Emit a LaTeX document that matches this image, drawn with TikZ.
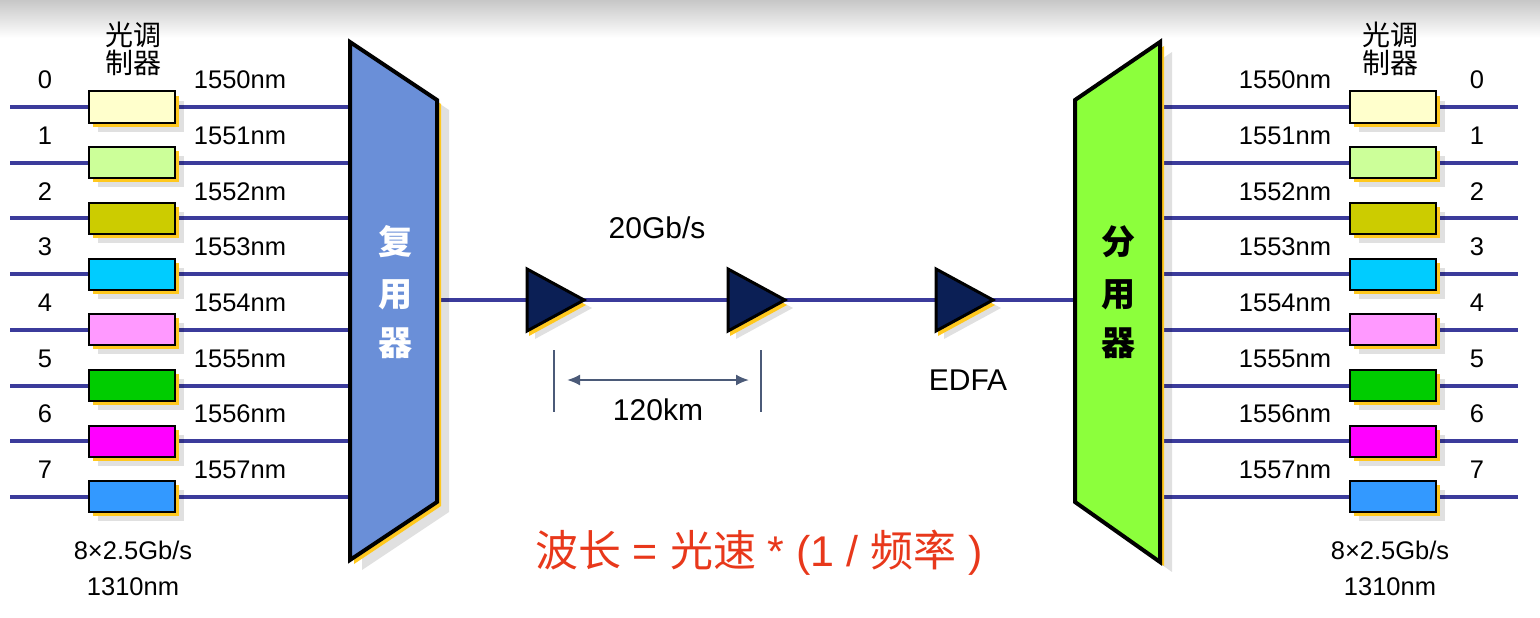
\documentclass[tikz,border=0pt]{standalone}
\usepackage{fontspec}
\setmainfont{Liberation Sans}
\newfontfamily\cjk{Noto Sans CJK SC}
\usetikzlibrary{shadows,calc,arrows.meta}
\pgfdeclarelayer{background}
\pgfsetlayers{background,main}
\definecolor{fibreblue}{HTML}{3B3B9B}
\definecolor{gold}{HTML}{FFC81E}
\definecolor{muxblue}{HTML}{6A8FD8}
\definecolor{demuxgreen}{HTML}{8CFF3C}
\definecolor{ampnavy}{HTML}{0B1F55}
\definecolor{dimgray}{HTML}{4B5A78}
\definecolor{lawred}{HTML}{E8381B}
\definecolor{mod0}{HTML}{FFFFCC}
\definecolor{mod1}{HTML}{CCFF99}
\definecolor{mod2}{HTML}{CCCC00}
\definecolor{mod3}{HTML}{00CCFF}
\definecolor{mod4}{HTML}{FF99FF}
\definecolor{mod5}{HTML}{00CC00}
\definecolor{mod6}{HTML}{FF00FF}
\definecolor{mod7}{HTML}{3399FF}
\tikzset{
  fibre/.style={
    draw=fibreblue,
    line width=4pt
  },
  modulator/.style={
    draw,
    line width=2pt,
    minimum width=86pt,
    minimum height=31pt,
    inner sep=0pt,
    drop shadow={shadow xshift=9pt,shadow yshift=-9pt,fill=black,opacity=0.12},
    drop shadow={shadow xshift=4pt,shadow yshift=-4pt,fill=gold,opacity=1}
  },
  mux/.style={
    draw,
    line width=4pt,
    line join=miter,
    drop shadow={shadow xshift=12pt,shadow yshift=-10pt,fill=black,opacity=0.12},
    drop shadow={shadow xshift=4pt,shadow yshift=-4pt,fill=gold,opacity=1}
  },
  amp/.style={
    draw,
    fill=ampnavy,
    line width=3pt,
    line join=miter,
    drop shadow={shadow xshift=8pt,shadow yshift=-8pt,fill=black,opacity=0.12},
    drop shadow={shadow xshift=2pt,shadow yshift=-5pt,fill=gold,opacity=1}
  },
  dim/.style={
    draw=dimgray,
    line width=2pt,
    >={Latex[length=13pt,width=11pt]}
  },
  lbl/.style={
    inner sep=0pt,
    font=\fontsize{25.5}{25.5}\selectfont
  },
  biglbl/.style={
    inner sep=0pt,
    font=\fontsize{30}{30}\selectfont
  },
  cnlbl/.style={
    inner sep=0pt,
    align=center,
    font=\fontsize{28}{28}\selectfont\cjk
  },
  bigchar/.style={
    inner sep=0pt,
    font=\fontsize{34}{34}\selectfont\cjk\bfseries
  },
  formula/.style={
    inner sep=0pt,
    text=lawred,
    font=\fontsize{43}{43}\selectfont
  }
}

\begin{document}
\begin{tikzpicture}[x=1pt,y=-1pt]
  \useasboundingbox (0,0) rectangle (1540,618);
  \begin{pgfonlayer}{background}
    \shade[top color=black!22,bottom color=white] (0,0) rectangle (1540,38);
  \end{pgfonlayer}

  % multiplexer and demultiplexer
  \filldraw[mux,fill=muxblue] (350,42) -- (437,100) -- (437,502) -- (350,560) -- cycle;
  \filldraw[mux,fill=demuxgreen] (1075,100) -- (1160,42) -- (1160,562) -- (1075,502) -- cycle;
  \foreach \c/\y in {复/242,用/295,器/343}{
      \node[bigchar,text=white] (mx\y) at (395,\y) {\c};
    }
  \foreach \c/\y in {分/242,用/295,器/343}{
      \node[bigchar] (dx\y) at (1118,\y) {\c};
    }
  \coordinate (mo) at (437,300);
  \coordinate (di) at (1075,300);

  % channels
  \foreach \i in {0,...,7}{
      \pgfmathsetmacro{\y}{107+55.7*\i}
      \coordinate (ls\i) at (10,\y);
      \coordinate (lm\i) at (350,\y);
      \coordinate (rd\i) at (1160,\y);
      \coordinate (re\i) at (1518,\y);
      \node[modulator,fill=mod\i] (lmod\i) at (132,\y) {};
      \node[modulator,fill=mod\i] (rmod\i) at (1393,\y) {};
      \node[lbl] (lnum\i) at (45,\y-27) {\i};
      \node[lbl] (lwl\i) at (240,\y-27) {155\i nm};
      \node[lbl] (rnum\i) at (1477,\y-27) {\i};
      \node[lbl] (rwl\i) at (1285,\y-27) {155\i nm};
      \begin{pgfonlayer}{background}
        \draw[fibre] (ls\i) -- (lmod\i) -- (lm\i);
        \draw[fibre] (rd\i) -- (rmod\i) -- (re\i);
      \end{pgfonlayer}
    }
  \node[cnlbl] (ltitle) at (133,49) {光调\\制器};
  \node[cnlbl] (rtitle) at (1390,49) {光调\\制器};

  % amplifiers
  \foreach \n/\x in {1/527,2/728,3/936}{
      \filldraw[amp] (\x,269) -- (\x,331) -- (\x+57,300) -- cycle;
      \coordinate (a\n) at (\x,300);
      \coordinate (b\n) at (\x+57,300);
    }
  \begin{pgfonlayer}{background}
    \draw[fibre] (mo) -- (a1) (b1) -- (a2) (b2) -- (a3) (b3) -- (di);
  \end{pgfonlayer}

  % span
  \coordinate (sp1) at (554,350);
  \coordinate (sp2) at (761,350);
  \draw[dim] (sp1) -- ++(0,62);
  \draw[dim] (sp2) -- ++(0,62);
  \draw[dim,<->] ($(sp1)+(13,30)$) -- ($(sp2)+(-12,30)$);

  \node[biglbl] (rate) at (657,228) {20Gb/s};
  \node[biglbl] (span) at (658,410) {120km};
  \node[biglbl] (edfa) at (968,380) {EDFA};
  \node[lbl] (lbit) at (133,550) {8×2.5Gb/s};
  \node[lbl] (lsrc) at (133,587) {1310nm};
  \node[lbl] (rbit) at (1390,550) {8×2.5Gb/s};
  \node[lbl] (rsrc) at (1390,587) {1310nm};
  \node[formula] (law) at (759,553) {{\cjk 波长} = {\cjk 光速} * (1 / {\cjk 频率} )};
\end{tikzpicture}
\end{document}
